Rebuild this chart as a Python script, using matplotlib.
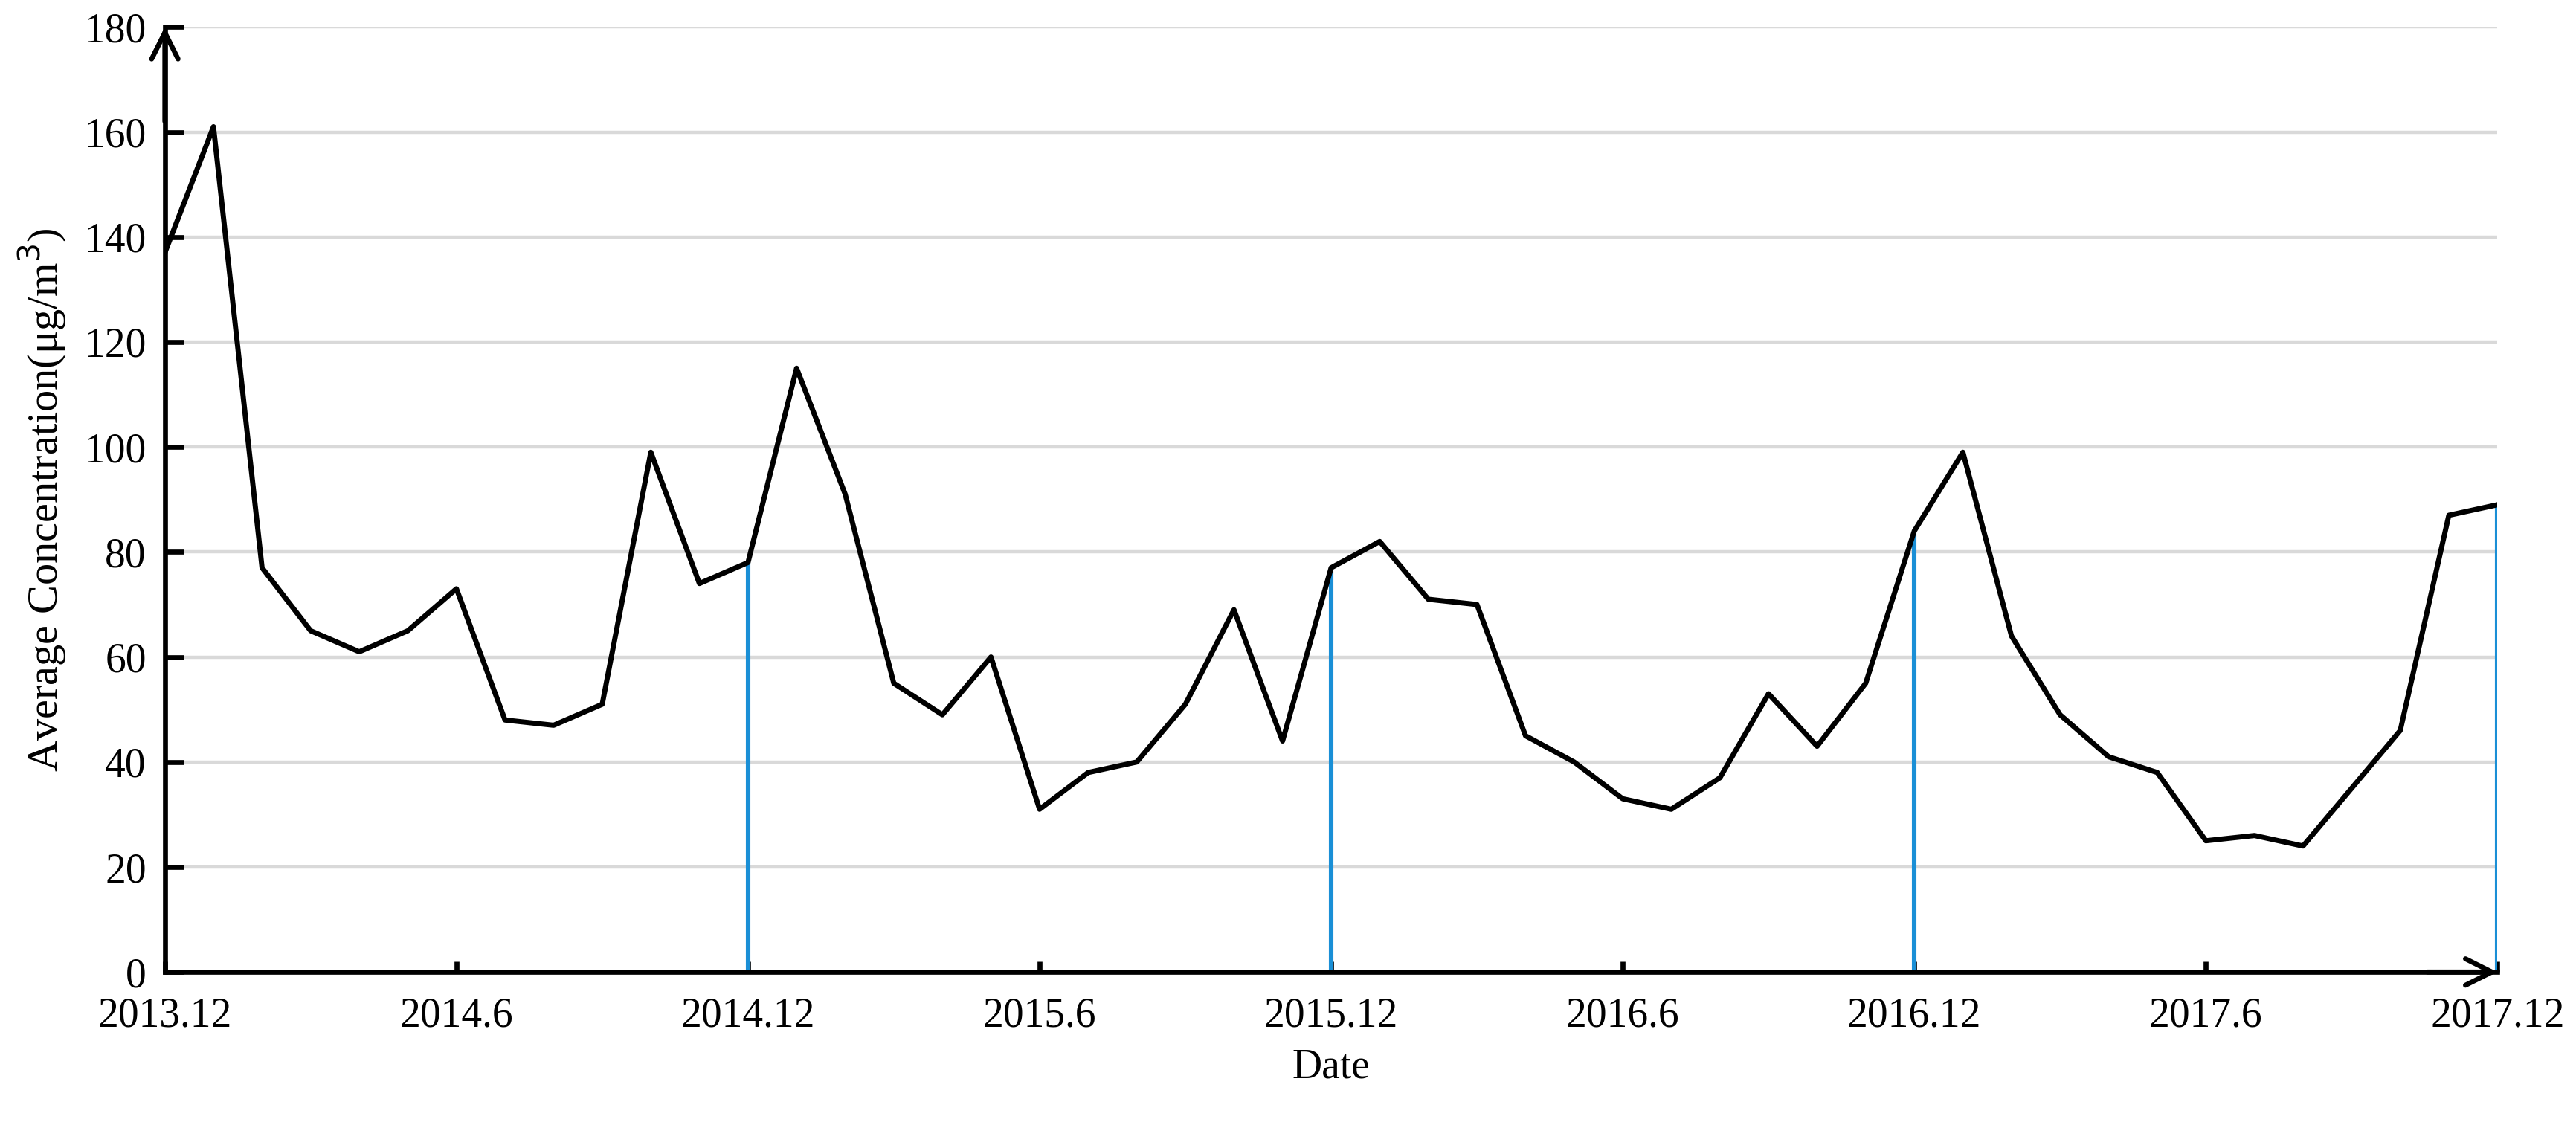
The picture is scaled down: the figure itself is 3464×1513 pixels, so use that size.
import numpy as np
import matplotlib.pyplot as plt

# Monthly average concentration, 2013.12 - 2017.12
concentration = [137, 161, 77, 65, 61, 65, 73, 48, 47, 51, 99, 74,
                 78, 115, 91, 55, 49, 60, 31, 38, 40, 51, 69, 44,
                 77, 82, 71, 70, 45, 40, 33, 31, 37, 53, 43, 55,
                 84, 99, 64, 49, 41, 38, 25, 26, 24, 35, 46, 87,
                 89]
tick_labels = ['2013.12', '2014.6', '2014.12', '2015.6', '2015.12',
               '2016.6', '2016.12', '2017.6', '2017.12']
yticks = [0, 20, 40, 60, 80, 100, 120, 140, 160, 180]
# December months marked with a blue drop line
marked = [12, 24, 36, 48]

plt.rcParams['font.family'] = ['Liberation Serif', 'DejaVu Serif']

months = np.arange(len(concentration))

fig = plt.figure(figsize=(17.32, 7.565), dpi=200)
ax = fig.add_axes([0.064, 0.136, 0.9055, 0.84])

for y in yticks:
	ax.axhline(y, color='#d9d9d9', lw=1.6, zorder=0)

ax.vlines(marked, 0, [concentration[i] for i in marked],
          color='#1a8fd6', lw=2.2, zorder=2)
ax.plot(months, concentration, color='black', lw=2.5, zorder=3)

ax.set_xlim(0, len(concentration) - 1)
ax.set_ylim(0, 180)
ax.set_xticks(months[::6])
ax.set_xticklabels(tick_labels)
ax.set_yticks(yticks)

for s in ['top', 'right']:
	ax.spines[s].set_visible(False)
for s in ['left', 'bottom']:
	ax.spines[s].set_linewidth(2.4)
	ax.spines[s].set_color('black')

ax.tick_params(axis='y', direction='in', length=9, width=2.4,
               labelsize=20, pad=9)
ax.tick_params(axis='x', direction='in', length=5, width=2.4,
               labelsize=20, pad=12)

# arrow heads on axes
ax.annotate('', xy=(0, 1.0), xytext=(0, 0.9), xycoords='axes fraction',
            arrowprops=dict(arrowstyle='->', lw=2.4, color='black',
                            mutation_scale=32, shrinkA=0, shrinkB=0))
ax.annotate('', xy=(1.0, 0), xytext=(0.97, 0), xycoords='axes fraction',
            arrowprops=dict(arrowstyle='->', lw=2.4, color='black',
                            mutation_scale=32, shrinkA=0, shrinkB=0))

ax.set_xlabel('Date', fontsize=20, labelpad=6)
ax.set_ylabel(r'Average Concentration(μg/m$^3$)', fontsize=21, labelpad=8)

fig.savefig('out.png', dpi=200)
